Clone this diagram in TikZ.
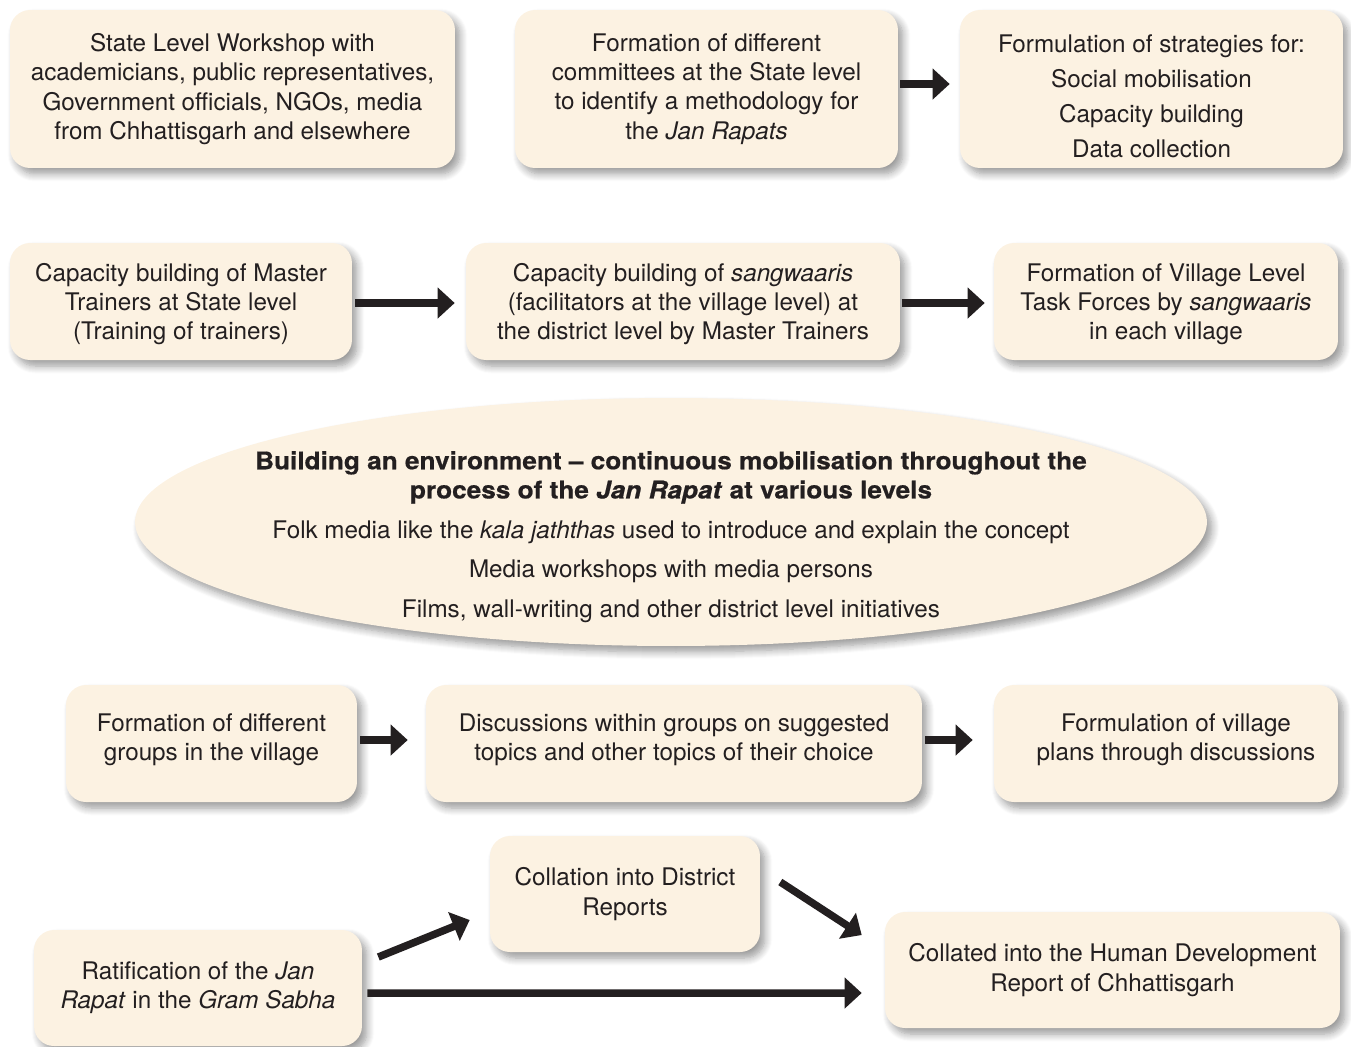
\documentclass[tikz,border=0pt]{standalone}
\usepackage{fontspec}
\setmainfont{TeX Gyre Heros}
\newfontfamily\titlefont{TeX Gyre Heros}[Ligatures=TeX, FakeStretch=1.08, FakeBold=0.6]
\usetikzlibrary{shapes.geometric, arrows.meta, shadows.blur}
\definecolor{boxfill}{RGB}{252,242,226}
\definecolor{inktext}{RGB}{35,31,32}

\tikzset{
  stagebox/.style={rectangle, rounded corners=0.4cm, fill=boxfill, align=center,
    inner sep=0pt, text=inktext,
    blur shadow={shadow xshift=0.1cm, shadow yshift=-0.12cm, shadow blur steps=8, shadow blur radius=0.15cm}},
  envshape/.style={ellipse, fill=boxfill, inner sep=0pt,
    blur shadow={shadow xshift=0.1cm, shadow yshift=-0.12cm, shadow blur steps=8, shadow blur radius=0.15cm}},
  envtext/.style={align=center, inner sep=0pt, text=inktext},
  flow/.style={-{Triangle[length=0.34cm,width=0.6cm]}, line width=0.15cm, draw=inktext}
}

\begin{document}
\begin{tikzpicture}[x=0.02cm, y=-0.02cm, font=\fontsize{13.8}{16.6}\selectfont]
    \useasboundingbox (0,0) rectangle (1351,1046);

    % first row
    \node[stagebox, minimum width=8.9cm, minimum height=3.16cm] (workshop) at (232.5,89)
        {State Level Workshop with\\academicians, public representatives,\\Government officials, NGOs, media\\from Chhattisgarh and elsewhere};
    \node[stagebox, minimum width=7.66cm, minimum height=3.16cm] (committees) at (706.5,89)
        {Formation of different\\committees at the State level\\to identify a methodology for\\the \textit{Jan Rapats}};
    \node[stagebox, minimum width=7.66cm, minimum height=3.16cm] (strategies) at (1151.5,89)
        {\rule{0pt}{18.5pt}Formulation of strategies for:\\[3.3pt]Social mobilisation\\[3.3pt]Capacity building\\[3.3pt]Data collection};

    % second row
    \node[stagebox, minimum width=6.84cm, minimum height=2.34cm] (trainers) at (181,301.5)
        {\rule{0pt}{13.5pt}Capacity building of Master\\Trainers at State level\\(Training of trainers)};
    \node[stagebox, minimum width=8.68cm, minimum height=2.34cm] (sangwaaris) at (683,301.5)
        {\rule{0pt}{13.5pt}Capacity building of \textit{sangwaaris}\\(facilitators at the village level) at\\the district level by Master Trainers};
    \node[stagebox, minimum width=6.88cm, minimum height=2.34cm] (taskforce) at (1166,301.5)
        {\rule{0pt}{13.5pt}Formation of Village Level\\Task Forces by \textit{sangwaaris}\\in each village};

    % environment
    \node[envshape, minimum width=21.44cm, minimum height=4.96cm] (environ) at (671,522) {};
    \node[envtext] (envnote) at (671,537)
        {{\titlefont\bfseries Building an environment – continuous mobilisation throughout the}\\
         {\titlefont\bfseries process of the \textit{Jan Rapat} at various levels}\\[6pt]
         Folk media like the \textit{kala jaththas} used to introduce and explain the concept\\[6pt]
         Media workshops with media persons\\[6pt]
         Films, wall-writing and other district level initiatives};

    % third row
    \node[stagebox, minimum width=5.82cm, minimum height=2.34cm] (groups) at (211.5,743.5)
        {Formation of different\\groups in the village\rule[-7.4pt]{0pt}{0pt}};
    \node[stagebox, minimum width=9.92cm, minimum height=2.34cm] (discuss) at (674,743.5)
        {Discussions within groups on suggested\\topics and other topics of their choice\rule[-7.4pt]{0pt}{0pt}};
    \node[stagebox, minimum width=6.88cm, minimum height=2.34cm] (plans) at (1166,743.5)
        {\hspace*{0.4cm}Formulation of village\\\hspace*{0.4cm}plans through discussions\rule[-7.4pt]{0pt}{0pt}};

    % last row
    \node[stagebox, minimum width=5.4cm, minimum height=2.32cm] (district) at (625,894)
        {Collation into District\\Reports};
    \node[stagebox, minimum width=6.56cm, minimum height=2.32cm] (ratify) at (198,988)
        {Ratification of the \textit{Jan}\\\textit{Rapat} in the \textit{Gram Sabha}};
    \node[stagebox, minimum width=9.1cm, minimum height=2.32cm] (hdr) at (1112.5,970)
        {Collated into the Human Development\\Report of Chhattisgarh};

    % connectors
    \draw[flow] ([xshift=0.04cm,yshift=0.1cm]committees.east) -- ([xshift=-0.2cm,yshift=0.1cm]strategies.west);
    \draw[flow] ([xshift=0.06cm,yshift=-0.03cm]trainers.east) -- ([xshift=-0.22cm,yshift=-0.03cm]sangwaaris.west);
    \draw[flow] ([xshift=0.04cm,yshift=-0.03cm]sangwaaris.east) -- ([xshift=-0.18cm,yshift=-0.03cm]taskforce.west);
    \draw[flow] ([xshift=0.06cm,yshift=0.07cm]groups.east) -- ([xshift=-0.36cm,yshift=0.07cm]discuss.west);
    \draw[flow] ([xshift=0.06cm,yshift=0.07cm]discuss.east) -- ([xshift=-0.42cm,yshift=0.07cm]plans.west);
    \draw[flow] ([xshift=0.32cm,yshift=0.62cm]ratify.east) -- ([xshift=-0.4cm,yshift=-0.52cm]district.west);
    \draw[flow] ([xshift=0.4cm,yshift=0.24cm]district.east) -- ([xshift=-0.46cm,yshift=0.7cm]hdr.west);
    \draw[flow] ([xshift=0.1cm,yshift=-0.1cm]ratify.east) -- ([xshift=-0.46cm,yshift=-0.46cm]hdr.west);
\end{tikzpicture}
\end{document}
